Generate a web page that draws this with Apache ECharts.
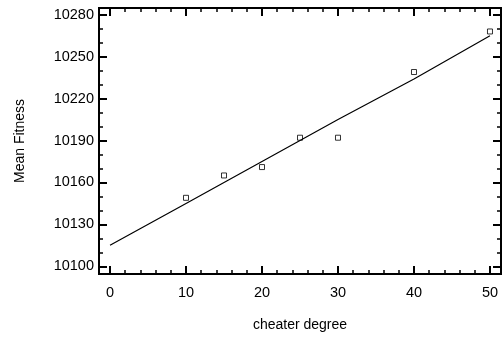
<!DOCTYPE html>
<html>
<head>
<meta charset="utf-8">
<script src="https://cdn.jsdelivr.net/npm/echarts@6/dist/echarts.min.js"></script>
<style>html,body{margin:0;padding:0;background:#fff;}#c{width:503px;height:337px;}</style>
</head>
<body>
<div id="c"></div>
<script>
// Observed data (squares)
const obsX = [10, 15, 20, 25, 30, 40, 50];
const obsY = [10149, 10165, 10171, 10192, 10192, 10239, 10268];
// Fitted line
const fitX = [0, 10, 20, 30, 40, 50];
const fitY = [10115, 10145, 10175, 10205, 10234, 10265];
// Ticks
const xMajor = [0, 10, 20, 30, 40, 50];
const xMinor = [2, 4, 6, 8, 12, 14, 16, 18, 22, 24, 26, 28, 32, 34, 36, 38, 42, 44, 46, 48];
const yMajor = [10100, 10130, 10160, 10190, 10220, 10250, 10280];
const yMinor = [10110, 10120, 10140, 10150, 10170, 10180, 10200, 10210, 10230, 10240, 10260, 10270];

const X_MIN = -1.45, X_MAX = 51.45, Y_MIN = 10094.5, Y_MAX = 10284.8;
const tickFont = {fontFamily: 'Liberation Sans, Arial, sans-serif', fontSize: 14.5, color: '#000'};

function mkX(pos, vals, len, width, labels, extra) {
  return Object.assign({
    type: 'value', position: pos, min: X_MIN, max: X_MAX,
    axisLine: {show: true, onZero: false, lineStyle: {color: '#000', width: 2}},
    splitLine: {show: false},
    axisTick: {show: true, inside: true, length: len, customValues: vals, lineStyle: {color: '#000', width: width}},
    axisLabel: labels ? Object.assign({show: true, customValues: vals, margin: 11, formatter: v => String(v)}, tickFont) : {show: false}
  }, extra || {});
}
function mkY(pos, vals, len, width, labels, extra) {
  return Object.assign({
    type: 'value', position: pos, min: Y_MIN, max: Y_MAX,
    axisLine: {show: true, onZero: false, lineStyle: {color: '#000', width: 2}},
    splitLine: {show: false},
    axisTick: {show: true, inside: true, length: len, customValues: vals, lineStyle: {color: '#000', width: width}},
    axisLabel: labels ? Object.assign({show: true, customValues: vals, margin: 5, formatter: v => String(v)}, tickFont) : {show: false}
  }, extra || {});
}

const chart = echarts.init(document.getElementById('c'));
chart.setOption({
  animation: false,
  backgroundColor: '#fff',
  grid: {left: 99, right: 2, top: 8, bottom: 61},
  xAxis: [
    mkX('bottom', xMajor, 8, 2, true, {name: 'cheater degree', nameLocation: 'middle', nameGap: 44,
      nameTextStyle: {fontFamily: 'Liberation Sans, Arial, sans-serif', fontSize: 14, color: '#000'}}),
    mkX('bottom', xMinor, 4, 1.5, false),
    mkX('top', xMajor, 8, 2, false),
    mkX('top', xMinor, 4, 1.5, false)
  ],
  yAxis: [
    mkY('left', yMajor, 8, 2, true, {name: 'Mean Fitness', nameLocation: 'middle', nameGap: 72, nameRotate: 90,
      nameTextStyle: {fontFamily: 'Liberation Sans, Arial, sans-serif', fontSize: 14, color: '#000'}}),
    mkY('left', yMinor, 4, 1.5, false),
    mkY('right', yMajor, 8, 2, false),
    mkY('right', yMinor, 4, 1.5, false)
  ],
  series: [
    {
      type: 'line', xAxisIndex: 0, yAxisIndex: 0,
      data: fitX.map((x, i) => [x, fitY[i]]),
      showSymbol: false, symbol: 'none',
      lineStyle: {color: '#000', width: 1.2}
    },
    {
      type: 'scatter', xAxisIndex: 0, yAxisIndex: 0,
      data: obsX.map((x, i) => [x, obsY[i]]),
      symbol: 'rect', symbolSize: 5,
      itemStyle: {color: '#fff', borderColor: '#000', borderWidth: 1}
    }
  ]
});
</script>
</body>
</html>
